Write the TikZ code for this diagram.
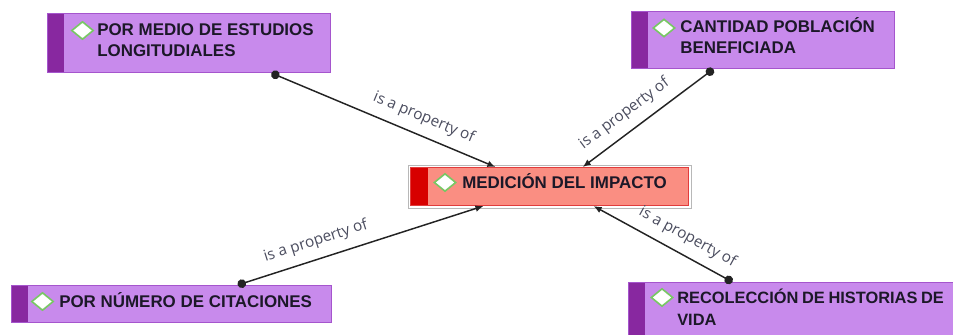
\documentclass[tikz,border=0pt]{standalone}
\usepackage{fontspec}
\setmainfont{Liberation Sans}
\newfontfamily\lblfont{Open Sans}
\usetikzlibrary{arrows.meta,calc,shapes.geometric}
\definecolor{pfill}{RGB}{200,138,236}
\definecolor{pdraw}{RGB}{165,85,205}
\definecolor{pstrip}{RGB}{136,40,160}
\definecolor{rfill}{RGB}{250,142,130}
\definecolor{rdraw}{RGB}{225,60,60}
\definecolor{rstrip}{RGB}{215,0,0}
\definecolor{dgreen}{RGB}{120,200,100}
\definecolor{txtc}{RGB}{28,24,40}
\definecolor{lblc}{RGB}{75,77,95}
\definecolor{linec}{RGB}{35,35,35}
\tikzset{
  pbox/.style={rectangle, draw=pdraw, fill=pfill, line width=0.8pt, inner sep=0pt, anchor=north west,
    path picture={\fill[pstrip] (path picture bounding box.north west) rectangle ([xshift=12pt]path picture bounding box.south west);}},
  rbox/.style={rectangle, draw=rdraw, fill=rfill, line width=0.8pt, inner sep=0pt, anchor=north west,
    path picture={\fill[rstrip] (path picture bounding box.north west) rectangle ([xshift=12.75pt]path picture bounding box.south west);}},
  icon/.style={diamond, draw=dgreen, fill=white, line width=1.2pt, inner sep=0pt, minimum width=16.5pt, minimum height=13.5pt},
  txt/.style={font=\fontsize{12.7}{15.75}\selectfont\bfseries, text=txtc, inner sep=0pt, anchor=base west},
  conn/.style={draw=linec, line width=1.1pt, arrows={Circle[length=6.5pt]-Latex[length=6pt,width=5pt]}},
  lbl/.style={font=\lblfont\fontsize{11.5}{13}\selectfont, text=lblc, sloped, anchor=south, inner xsep=0pt, inner ysep=7pt},
}
\begin{document}
\begin{tikzpicture}[x=0.75pt,y=-0.75pt]
\useasboundingbox (0,0) rectangle (953,335);
\clip (0,0) rectangle (953,335);
% boxes
\node[pbox, minimum width=212.25pt, minimum height=44.25pt] (b1) at (47,13) {};
\node[pbox, minimum width=197.25pt, minimum height=42.75pt] (b3) at (631,11) {};
\node[rbox, minimum width=208.5pt, minimum height=28.5pt] (c) at (410,167) {};
\draw[black!28, line width=0.6pt] ([shift={(-2,-2)}]c.north west) rectangle ([shift={(2,2)}]c.south east);
\node[pbox, minimum width=252.75pt, minimum height=47.25pt] (b4) at (628,282) {};
\node[pbox, minimum width=240pt, minimum height=27.75pt] (b5) at (11,285) {};
% icons
\node[icon] (b1i) at (82.5,30.5) {};
\node[icon] (b3i) at (664,28) {};
\node[icon] (ci) at (445,182.5) {};
\node[icon] (b4i) at (662,297.5) {};
\node[icon] (b5i) at (42.5,301.5) {};
% texts
\node[txt] (b1t) at (97,36) {\parbox[t]{250pt}{POR MEDIO DE ESTUDIOS\\LONGITUDIALES}};
\node[txt] (b3t) at (680,33) {\parbox[t]{250pt}{CANTIDAD POBLACIÓN\\BENEFICIADA}};
\node[txt] (ct) at (462,188) {MEDICIÓN DEL IMPACTO};
\node[txt, font=\fontsize{12.3}{16.5}\selectfont\bfseries] (b4t) at (677,303) {\parbox[t]{200pt}{RECOLECCIÓN DE HISTORIAS DE\\VIDA}};
\node[txt] (b5t) at (59,307) {POR NÚMERO DE CITACIONES};
% connectors
\draw[conn] ($(b1.south west)!0.79!(b1.south east)$) -- node[lbl, pos=0.65] {is a property of} ($(c.north west)!0.306!(c.north east)$);
\draw[conn] ($(b3.south west)!0.312!(b3.south east)$) -- node[lbl, pos=0.60] {is a property of} ($(c.north west)!0.619!(c.north east)$);
\draw[conn] ($(b5.north west)!0.706!(b5.north east)$) -- node[lbl, pos=0.34] {is a property of} ($(c.south west)!0.263!(c.south east)$);
\draw[conn] ($(b4.north west)!0.309!(b4.north east)$) -- node[lbl, pos=0.385] {is a property of} ($(c.south west)!0.658!(c.south east)$);
\end{tikzpicture}
\end{document}
